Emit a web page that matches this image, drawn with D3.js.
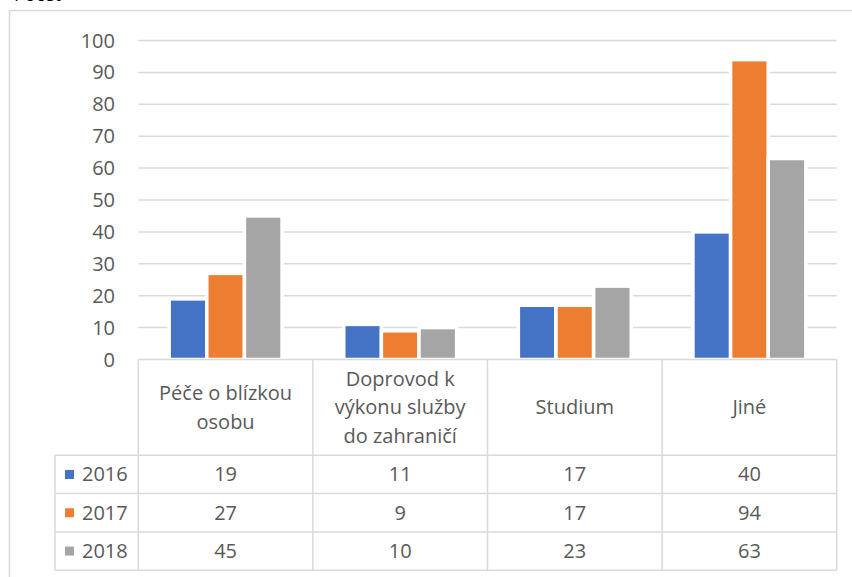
<!DOCTYPE html>
<html lang="cs">
<head>
<meta charset="UTF-8">
<title>Chart</title>
<style>
  body { margin: 0; background: #fff; }
  svg { display: block; font-family: "Open Sans", sans-serif; }
</style>
</head>
<body>
<svg id="chart" width="852" height="577"></svg>
<script src="https://d3js.org/d3.v7.min.js"></script>
<script>
// data
const categories = [["Péče o blízkou", "osobu"], ["Doprovod k", "výkonu služby", "do zahraničí"], ["Studium"], ["Jiné"]];
const seriesNames = ["2016", "2017", "2018"];
const values2016 = [19, 11, 17, 40];
const values2017 = [27, 9, 17, 94];
const values2018 = [45, 10, 23, 63];
const colors = ["#4472c4", "#ed7d31", "#a5a5a5"];
const yTicks = [0, 10, 20, 30, 40, 50, 60, 70, 80, 90, 100];

const series = [values2016, values2017, values2018];
const catKeys = categories.map(c => c.join(" "));

const svg = d3.select("#chart");
const textCol = "#595959";
const lineCol = "#d9d9d9";
const fs = 20;

// chart frame (cut off at right and bottom)
svg.append("rect").attr("x", 9.5).attr("y", 10.5).attr("width", 900).attr("height", 700)
  .attr("fill", "none").attr("stroke", lineCol).attr("stroke-width", 1.5);
svg.append("text").attr("x", 14).attr("y", 1).attr("font-size", 18).attr("fill", "#000").text("Počet");

const plotLeft = 138.3, plotRight = 836.7, plotTop = 40.5, plotBottom = 359.5;

const x0 = d3.scaleBand().domain(catKeys).range([plotLeft, plotRight]).padding(0);
const x1 = d3.scaleBand().domain(seriesNames).range([0, x0.bandwidth()]).paddingInner(0).paddingOuter(0.82);
const y = d3.scaleLinear().domain([0, 100]).range([plotBottom, plotTop]);

// gridlines
svg.append("g").selectAll("line").data(yTicks.slice(1)).join("line")
  .attr("x1", plotLeft).attr("x2", plotRight)
  .attr("y1", d => y(d)).attr("y2", d => y(d))
  .attr("stroke", lineCol).attr("stroke-width", 1.5);

// y labels
svg.append("g").selectAll("text").data(yTicks).join("text")
  .attr("x", 115).attr("y", d => y(d)).attr("dy", "0.35em")
  .attr("text-anchor", "end").attr("font-size", fs).attr("fill", textCol)
  .text(d => d);

// bars
const groups = svg.append("g").selectAll("g").data(series).join("g")
  .attr("fill", (d, i) => colors[i]);
groups.each(function (vals, si) {
  d3.select(this).selectAll("rect").data(vals).join("rect")
    .attr("x", (d, ci) => x0(catKeys[ci]) + x1(seriesNames[si]))
    .attr("y", d => y(d))
    .attr("width", x1.bandwidth())
    .attr("height", d => plotBottom - y(d))
    .attr("stroke", "#fff").attr("stroke-width", 3.5);
});

// data table
const headerBottom = 455.3;
const rowH = 38.3;
const legendLeft = 55;
const tbl = svg.append("g").attr("stroke", lineCol).attr("stroke-width", 1.5).attr("fill", "none");
tbl.append("line").attr("x1", plotLeft).attr("x2", plotRight).attr("y1", plotBottom).attr("y2", plotBottom);
[0, 1, 2, 3].forEach(r => {
  const yy = headerBottom + r * rowH;
  tbl.append("line").attr("x1", legendLeft).attr("x2", plotRight).attr("y1", yy).attr("y2", yy);
});
const tableBottom = headerBottom + 3 * rowH;
catKeys.forEach(k => {
  tbl.append("line").attr("x1", x0(k)).attr("x2", x0(k)).attr("y1", plotBottom).attr("y2", tableBottom);
});
tbl.append("line").attr("x1", plotRight).attr("x2", plotRight).attr("y1", plotBottom).attr("y2", tableBottom);
tbl.append("line").attr("x1", legendLeft).attr("x2", legendLeft).attr("y1", headerBottom).attr("y2", tableBottom);

// category header labels
const lineH = 28.4;
const headerMid = (plotBottom + headerBottom) / 2;
categories.forEach((lines, ci) => {
  const cx = x0(catKeys[ci]) + x0.bandwidth() / 2;
  const t = svg.append("text").attr("text-anchor", "middle").attr("font-size", fs).attr("fill", textCol);
  lines.forEach((ln, li) => {
    t.append("tspan").attr("x", cx)
      .attr("y", headerMid + (li - (lines.length - 1) / 2) * lineH)
      .attr("dy", "0.35em").text(ln);
  });
});

// rows: legend + values
series.forEach((vals, si) => {
  const cy = headerBottom + si * rowH + rowH / 2;
  svg.append("rect").attr("x", 65).attr("y", cy - 4.5).attr("width", 9).attr("height", 9).attr("fill", colors[si]);
  svg.append("text").attr("x", 82).attr("y", cy).attr("dy", "0.35em")
    .attr("font-size", fs).attr("fill", textCol).text(seriesNames[si]);
  vals.forEach((v, ci) => {
    svg.append("text").attr("x", x0(catKeys[ci]) + x0.bandwidth() / 2).attr("y", cy).attr("dy", "0.35em")
      .attr("text-anchor", "middle").attr("font-size", fs).attr("fill", textCol).text(v);
  });
});
</script>
</body>
</html>
